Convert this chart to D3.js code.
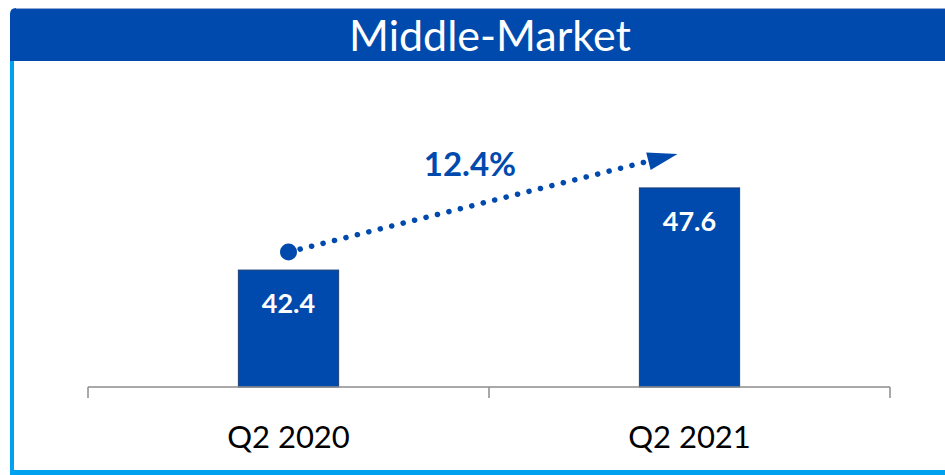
<!DOCTYPE html>
<html>
<head>
  <style type="text/css">
    body { margin: 0; background: #fff; }
    svg { display: block; font-family: Lato, "Open Sans", sans-serif; }
    .axis path, .axis line { fill: none; stroke: #8c8c8c; stroke-width: 1.5; }
    .axis text { font-size: 31px; fill: #000; }
    .bar { fill: #004aad; stroke: #1c3f7a; stroke-width: 1; }
    .value { font-size: 27px; font-weight: 700; fill: #fff; text-anchor: middle; }
  </style>
</head>
<body>
  <div class="svg_container"></div>
  <script src="https://cdnjs.cloudflare.com/ajax/libs/d3/7.8.5/d3.min.js"></script>
  <script type="text/javascript">
    var title = "Middle-Market";
    var categories = ["Q2 2020", "Q2 2021"];
    var values = [42.4, 47.6];
    var growthLabel = "12.4%";

    var W = 945, H = 475;
    var blue = "#004aad", lightBlue = "#00a2f0";

    var svg = d3.select(".svg_container").append("svg")
      .attr("width", W)
      .attr("height", H);

    // frame: left and bottom light blue border
    svg.append("rect").attr("x", 10).attr("y", 40).attr("width", 4).attr("height", H - 40).attr("fill", lightBlue);
    svg.append("rect").attr("x", 10).attr("y", 470).attr("width", W - 10).attr("height", 5).attr("fill", lightBlue);

    // title bar with rounded top-left corner
    svg.append("path")
      .attr("d", "M10,61 V14 Q10,8 16,8 H" + W + " V61 Z")
      .attr("fill", blue);
    svg.append("line").attr("x1", 16).attr("x2", W).attr("y1", 8.5).attr("y2", 8.5)
      .attr("stroke", "#8fa8d6").attr("stroke-width", 1);
    svg.append("text")
      .attr("x", 490).attr("y", 51)
      .attr("text-anchor", "middle")
      .attr("fill", "#fff")
      .style("font-size", "43px")
      .text(title);

    // scales
    var axisY = 387;
    var x = d3.scaleBand().domain(categories).range([88, 890]).padding(0);
    var y = d3.scaleLinear().domain([35, 50]).range([axisY, 150]);
    var barW = x.bandwidth() * 0.25;

    svg.selectAll(".bar")
      .data(values)
      .enter().append("rect")
      .attr("class", "bar")
      .attr("x", function(d, i) { return x(categories[i]) + x.bandwidth() / 2 - barW / 2; })
      .attr("width", barW)
      .attr("y", function(d) { return y(d); })
      .attr("height", function(d) { return axisY - y(d); });

    svg.selectAll(".value")
      .data(values)
      .enter().append("text")
      .attr("class", "value")
      .attr("x", function(d, i) { return x(categories[i]) + x.bandwidth() / 2; })
      .attr("y", function(d) { return y(d) + 43; })
      .text(function(d) { return d.toFixed(1); });

    // x axis with ticks at band boundaries
    var axis = svg.append("g")
      .attr("class", "axis")
      .attr("transform", "translate(0," + axisY + ")");
    axis.append("path").attr("d", "M88,0 H890");
    var edges = categories.map(function(c) { return x(c); }).concat([x.range()[1]]);
    axis.selectAll(".tick-line").data(edges).enter().append("line")
      .attr("x1", function(d) { return d; }).attr("x2", function(d) { return d; })
      .attr("y1", 0).attr("y2", 11);
    axis.selectAll(".cat").data(categories).enter().append("text")
      .attr("x", function(d) { return x(d) + x.bandwidth() / 2; })
      .attr("y", 61)
      .attr("text-anchor", "middle")
      .text(function(d) { return d; });

    // growth arrow
    var x0 = x(categories[0]) + x.bandwidth() / 2, y0 = y(values[0]) - 18;
    var x1 = x(categories[1]) + x.bandwidth() / 2 - 12, y1 = y(values[1]) - 34;
    var ang = Math.atan2(y1 - y0, x1 - x0);
    var headLen = 30;
    var lx = x1 - headLen * Math.cos(ang), ly = y1 - headLen * Math.sin(ang);

    svg.append("circle").attr("cx", x0).attr("cy", y0).attr("r", 8.5).attr("fill", blue);
    svg.append("line")
      .attr("x1", x0 + 12 * Math.cos(ang)).attr("y1", y0 + 12 * Math.sin(ang))
      .attr("x2", lx).attr("y2", ly)
      .attr("stroke", blue).attr("stroke-width", 5.5)
      .attr("stroke-linecap", "round")
      .attr("stroke-dasharray", "0.1 11.7");
    var px = -Math.sin(ang), py = Math.cos(ang);
    svg.append("path")
      .attr("d", "M" + x1 + "," + y1 +
        " L" + (lx + 9 * px) + "," + (ly + 9 * py) +
        " L" + (lx - 9 * px) + "," + (ly - 9 * py) + " Z")
      .attr("fill", blue);

    svg.append("text")
      .attr("x", 470).attr("y", 176)
      .attr("text-anchor", "middle")
      .attr("fill", blue)
      .style("font-size", "33px")
      .style("font-weight", "700")
      .text(growthLabel);
  </script>
</body>
</html>
